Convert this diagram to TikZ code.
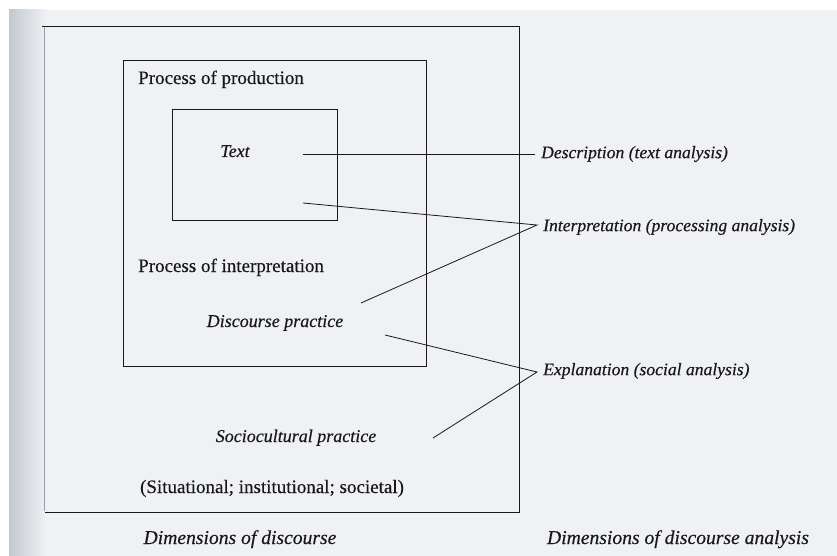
\documentclass[tikz,border=0pt]{standalone}
\usepackage{fontspec}
\setmainfont{Liberation Serif}
\definecolor{paper}{HTML}{EFF1F4}
\definecolor{shade}{HTML}{C3C8D0}
\definecolor{ink}{HTML}{18181C}
\newcommand{\heavy}{\addfontfeature{FakeBold=0.35}}
\tikzset{
  boxline/.style={draw=ink, line width=0.9pt},
  conn/.style={draw=ink, line width=0.8pt},
  roman/.style={font=\fontsize{19}{22}\selectfont\heavy, text=ink, inner sep=0pt},
  ital/.style={font=\fontsize{18}{21}\selectfont\itshape\heavy, text=ink, inner sep=0pt},
  lab/.style={font=\fontsize{17.6}{21}\selectfont\itshape\heavy, text=ink, inner sep=0pt, anchor=west, xshift=6pt},
  caption/.style={font=\fontsize{19.6}{23}\selectfont\itshape\heavy, text=ink, inner sep=0pt, anchor=base}
}
\begin{document}
\begin{tikzpicture}[x=1pt,y=-1pt]
\useasboundingbox (0,0) rectangle (837,556);
% paper
\fill[white] (0,0) rectangle (837,556);
\fill[paper] (9,10) rectangle (837,556);
\shade[left color=shade, right color=paper] (9,10) rectangle (46,556);
% boxes
\draw[boxline] (42,26) -- (519,26) -- (519,512) -- (45,512);
\draw[draw=shade!80!black, line width=0.4pt] (44,27) -- (44,511);
\draw[boxline] (123,60) rectangle (426,366);
\draw[boxline] (172,109) rectangle (337,220);
% texts
\node[roman, anchor=base west] (prod) at (138,84) {Process of production};
\node[ital, anchor=base] (text) at (235,157) {Text};
\node[roman, anchor=base west] (interp) at (138,272) {Process of interpretation};
\node[ital, anchor=base] (dp) at (275,327) {Discourse practice};
\node[ital, anchor=base] (sp) at (296,442) {Sociocultural practice};
\node[roman, anchor=base] (sits) at (272,493) {(Situational; institutional; societal)};
\node[caption] (dimd) at (240,544) {Dimensions of discourse};
\node[caption] (dimda) at (678,544) {Dimensions of discourse analysis};
% label tips
\coordinate (dtip) at (535,154);
\coordinate (itip) at (537,225);
\coordinate (etip) at (537,372);
\node[lab] (dlab) at (dtip) {Description (text analysis)};
\node[lab] (ilab) at ([yshift=-2pt]itip) {Interpretation (processing analysis)};
\node[lab] (elab) at ([yshift=1pt]etip) {Explanation (social analysis)};
% connector starts
\coordinate (d1) at (303,154);
\coordinate (i1) at (303,203);
\coordinate (i2) at (361,303);
\coordinate (e1) at (385,335);
\coordinate (e2) at (433,438);
\draw[conn] (d1) -- (dtip);
\draw[conn] (i1) -- (itip) -- (i2);
\draw[conn] (e1) -- (etip) -- (e2);
\end{tikzpicture}
\end{document}
